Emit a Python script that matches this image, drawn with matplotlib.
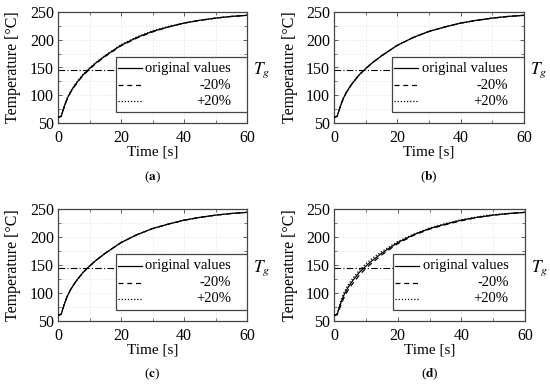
import matplotlib
matplotlib.use('Agg')
import matplotlib.pyplot as plt
from matplotlib.patches import Rectangle
from matplotlib.lines import Line2D
from matplotlib.ticker import MultipleLocator

plt.rcParams['font.family'] = ['Liberation Serif', 'DejaVu Serif']
plt.rcParams['mathtext.fontset'] = 'stix'
plt.rcParams['font.size'] = 11

# time axis [s]
time = [0, 1, 2, 3, 4, 5, 6, 8, 10, 12, 15, 20, 25, 30, 35, 40, 45, 50, 55, 60]
# temperature of the original simulation [°C]
temp_orig = [60, 62, 80, 95, 106, 115, 123, 137, 148, 158, 171, 190, 204, 215, 223, 230, 235, 239, 242, 244]

# -20% / +20% variations for each panel
temp_minus = {
    'a': [60, 62, 79, 94, 105, 114, 122, 136, 147, 157, 170, 189, 203, 214, 223, 230, 235, 239, 242, 244],
    'b': [60, 62, 80, 95, 106, 115, 123, 137, 148, 158, 171, 190, 204, 215, 223, 230, 235, 239, 242, 244],
    'c': [60, 62, 80, 95, 106, 115, 123, 137, 148, 158, 171, 190, 204, 215, 223, 230, 235, 239, 242, 244],
    'd': [60, 61, 76, 90, 101, 110, 118, 132, 144, 154, 168, 188, 203, 214, 222, 229, 235, 239, 242, 244],
}
temp_plus = {
    'a': [60, 62, 81, 96, 107, 116, 124, 138, 149, 159, 172, 191, 205, 216, 224, 230, 235, 239, 242, 244],
    'b': [60, 62, 80, 95, 106, 115, 123, 137, 148, 158, 171, 190, 204, 215, 223, 230, 235, 239, 242, 244],
    'c': [60, 62, 80, 95, 106, 115, 123, 137, 148, 158, 171, 190, 204, 215, 223, 230, 235, 239, 242, 244],
    'd': [60, 63, 83, 99, 110, 119, 127, 141, 152, 162, 174, 192, 205, 216, 224, 231, 236, 240, 242, 244],
}
t_glass = 145
panels = ['a', 'b', 'c', 'd']
legend_labels = ['original values', '-20%', '+20%']
legend_styles = ['-', (0, (4, 3)), (0, (1, 1.5))]

fig = plt.figure(figsize=(5.5, 3.85), dpi=100)
W, H = 550.0, 385.0
boxes = {
    'a': (58, 12, 247, 123),
    'b': (334, 12, 524, 123),
    'c': (58, 209, 247, 321),
    'd': (334, 209, 525, 321),
}
edge = '#444444'

for p in panels:
    x0, y0, x1, y1 = boxes[p]
    ax = fig.add_axes([x0 / W, 1 - y1 / H, (x1 - x0) / W, (y1 - y0) / H])
    ax.plot(time, temp_orig, color='black', lw=0.9, ls='-', zorder=3)
    ax.plot(time, temp_minus[p], color='black', lw=0.9, ls=(0, (4, 3)), zorder=3)
    ax.plot(time, temp_plus[p], color='black', lw=0.9, ls=(0, (1, 1.5)), zorder=3)
    ax.axhline(t_glass, color='black', lw=0.8, ls=(0, (6, 2, 1, 2)), zorder=2)
    ax.text(1.03, t_glass, '$T_g$', transform=ax.get_yaxis_transform(),
            ha='left', va='center', fontsize=12.5)

    ax.set_xlim(0, 60)
    ax.set_ylim(50, 250)
    ax.xaxis.set_major_locator(MultipleLocator(20))
    ax.xaxis.set_minor_locator(MultipleLocator(10))
    ax.yaxis.set_major_locator(MultipleLocator(50))
    ax.yaxis.set_minor_locator(MultipleLocator(25))
    ax.tick_params(which='both', direction='in', top=True, right=True,
                   color=edge, labelsize=11.5)
    ax.tick_params(axis='x', pad=5)
    ax.tick_params(axis='y', pad=3)
    ax.tick_params(which='major', length=3, width=0.6)
    ax.tick_params(which='minor', length=2, width=0.5)
    ax.grid(which='both', color='#e6e6e6', lw=0.5, ls=(0, (3, 2)), zorder=0)
    for s in ax.spines.values():
        s.set_color(edge)
        s.set_linewidth(0.9)
    ax.set_xlabel('Time [s]', labelpad=0, fontsize=11)
    ax.set_ylabel('Temperature [°C]', labelpad=6, fontsize=11.5)

    # legend drawn by hand: line samples on the left, labels flush right
    ax.add_patch(Rectangle((0.307, 0.1), 0.693, 0.495, transform=ax.transAxes,
                           facecolor='white', edgecolor=edge, lw=0.9, zorder=4))
    rows = [0.495, 0.342, 0.198]
    for yy, lab, ls in zip(rows, legend_labels, legend_styles):
        ax.add_line(Line2D([0.317, 0.444], [yy, yy], transform=ax.transAxes,
                           color='black', lw=0.9, ls=ls, zorder=5))
        ax.text(0.915, yy, lab, transform=ax.transAxes, ha='right',
                va='center', fontsize=10.5, zorder=5)

    cx = (x0 + x1) / 2 / W
    ly = 1 - (177 if p in 'ab' else 374) / H
    fig.text(cx, ly, '(' + r'$\mathbf{' + p + '}$' + ')', ha='center',
             va='center', fontsize=9.5)

fig.savefig('out.png', dpi=100)
